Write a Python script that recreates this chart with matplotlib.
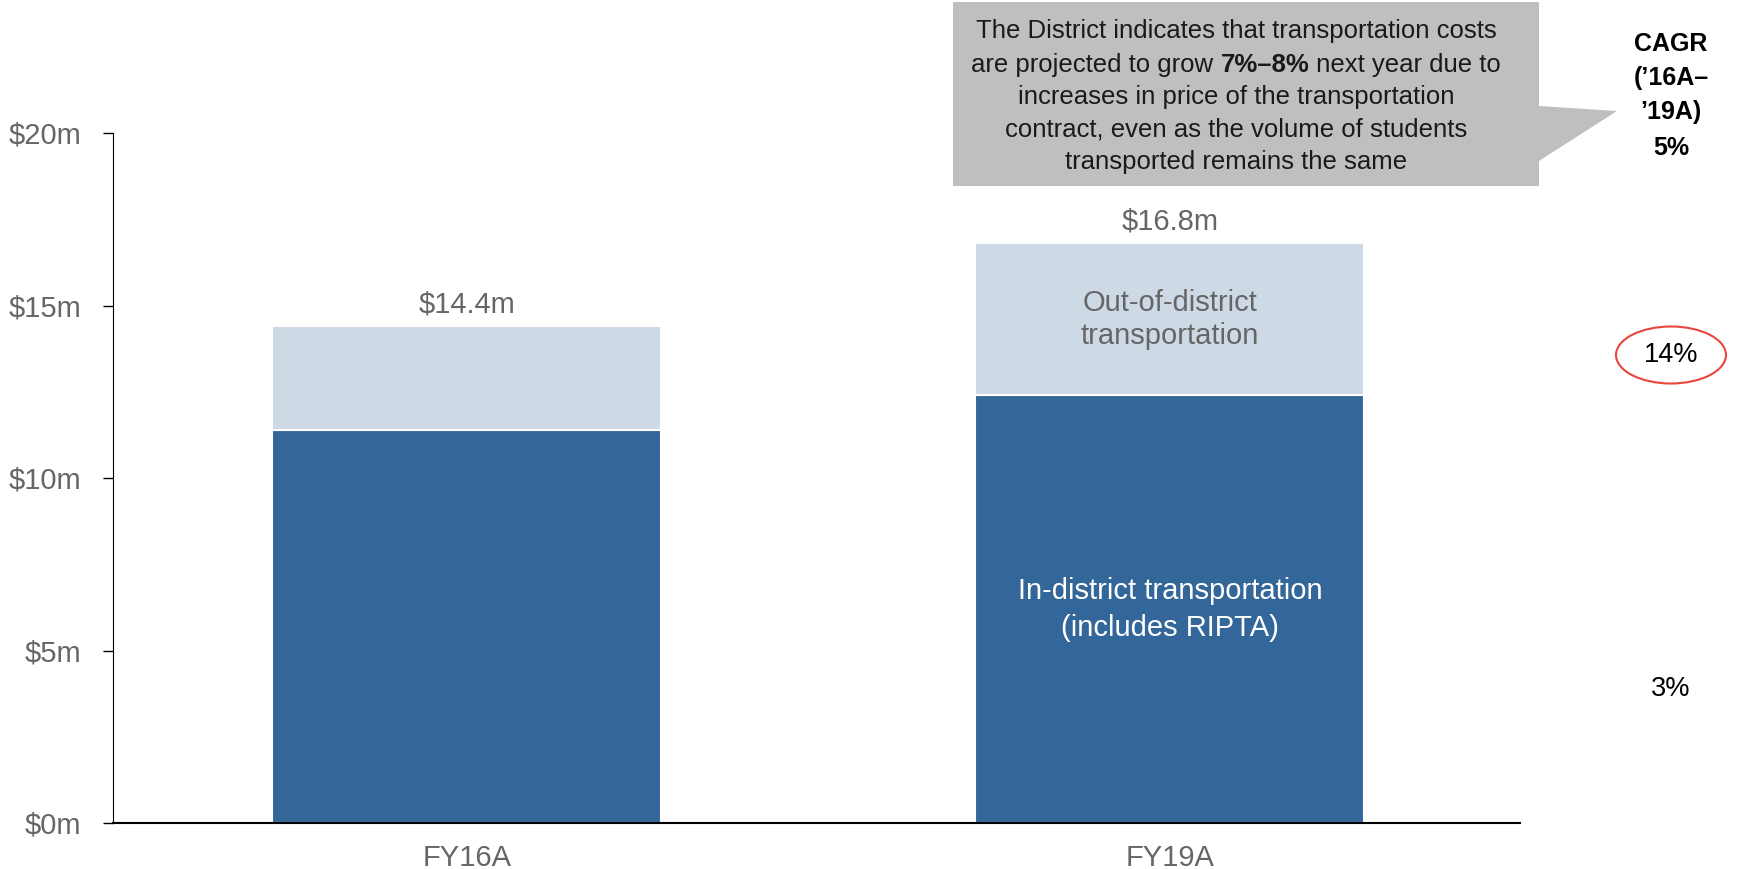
import matplotlib
matplotlib.use("Agg")
import matplotlib.pyplot as plt
from matplotlib.patches import Polygon, Ellipse

plt.rcParams['font.family'] = ['Liberation Sans', 'DejaVu Sans']

categories = ["FY16A", "FY19A"]
in_district = [11.4, 12.4]
out_district = [3.0, 4.4]
totals = [14.4, 16.8]
total_labels = ["$14.4m", "$16.8m"]
yticks = [0, 5, 10, 15, 20]
ytick_labels = ["$0m", "$5m", "$10m", "$15m", "$20m"]
cagr_values = ["14%", "3%"]

W, H = 1742, 869
fig = plt.figure(figsize=(W / 100, H / 100), dpi=100)
ax = fig.add_axes([113 / W, 1 - 823 / H, (1520 - 113) / W, (823 - 133) / H])

DARK = "#336699"
LIGHT = "#CDD9E5"
GRAY = "#666666"
FS = 21

x = list(range(len(categories)))
width = 0.553
ax.bar(x, in_district, width, color=DARK, edgecolor="white", linewidth=1.5)
ax.bar(x, out_district, width, bottom=in_district, color=LIGHT, edgecolor="white", linewidth=1.5)

for xi, t, lab in zip(x, totals, total_labels):
    ax.annotate(lab, (xi, t), xytext=(0, 10), textcoords="offset points",
                ha="center", va="baseline", fontsize=FS, color=GRAY)

ax.text(1, in_district[1] + out_district[1] / 2, "Out-of-district\ntransportation",
        ha="center", va="center", fontsize=FS, color=GRAY, linespacing=1.25)
ax.text(1, in_district[1] / 2, "In-district transportation\n(includes RIPTA)",
        ha="center", va="center", fontsize=FS, color="white", linespacing=1.4)

ax.set_ylim(0, 20)
ax.set_xlim(-0.503, 1.498)
ax.set_yticks(yticks)
ax.set_yticklabels(ytick_labels, fontsize=FS, color=GRAY)
ax.set_xticks(x)
ax.set_xticklabels(categories, fontsize=FS, color=GRAY)
ax.tick_params(axis="x", length=0, pad=15)
ax.tick_params(axis="y", length=7, width=1, direction="out", pad=16)
for s in ["top", "right"]:
    ax.spines[s].set_visible(False)
ax.spines["left"].set_color("black")
ax.spines["bottom"].set_color("black")
ax.spines["bottom"].set_linewidth(1.5)


def fx(px):
    return px / W


def fy(py):
    return 1 - py / H


callout = Polygon([(fx(953), fy(2)), (fx(1539), fy(2)), (fx(1539), fy(106)),
                   (fx(1617), fy(111)), (fx(1539), fy(161)), (fx(1539), fy(186)),
                   (fx(953), fy(186))], closed=True, transform=fig.transFigure,
                  facecolor="#BFBFBF", edgecolor="none")
fig.patches.append(callout)

TXT = "#1a1a1a"
cx = 1236
lines_y = [31, 65, 97, 130, 162]
fs_c = 18.5
fig.text(fx(cx), fy(lines_y[0]), "The District indicates that transportation costs",
         ha="center", va="center", fontsize=fs_c, color=TXT)
parts = [("are projected to grow ", "normal"), ("7%\u20138%", "bold"), (" next year due to", "normal")]
fig.canvas.draw()
renderer = fig.canvas.get_renderer()
tmp = []
widths = []
for s, wgt in parts:
    t = fig.text(0, 0, s, fontsize=fs_c, fontweight=wgt)
    widths.append(t.get_window_extent(renderer).width)
    tmp.append(t)
for t in tmp:
    t.remove()
start = cx - sum(widths) / 2
for (s, wgt), w in zip(parts, widths):
    fig.text(fx(start), fy(lines_y[1]), s, ha="left", va="center", fontsize=fs_c,
             fontweight=wgt, color=TXT)
    start += w
fig.text(fx(cx), fy(lines_y[2]), "increases in price of the transportation",
         ha="center", va="center", fontsize=fs_c, color=TXT)
fig.text(fx(cx), fy(lines_y[3]), "contract, even as the volume of students",
         ha="center", va="center", fontsize=fs_c, color=TXT)
fig.text(fx(cx), fy(lines_y[4]), "transported remains the same",
         ha="center", va="center", fontsize=fs_c, color=TXT)

cagr_x = 1671
for txt, yy in zip(["CAGR", "(\u201916A\u2013", "\u201919A)", "5%"], [44, 78, 112, 148]):
    fig.text(fx(cagr_x), fy(yy), txt, ha="center", va="center", fontsize=18,
             fontweight="bold", color="black")

fig.text(fx(cagr_x), fy(355), cagr_values[0], ha="center", va="center", fontsize=19.5, color="black")
fig.text(fx(cagr_x), fy(689), cagr_values[1], ha="center", va="center", fontsize=19.5, color="black")

ell = Ellipse((fx(1671), fy(355)), 110 / W, 57 / H, transform=fig.transFigure,
              facecolor="none", edgecolor="#E8453C", linewidth=1.5)
fig.patches.append(ell)

fig.savefig("out.png", dpi=100)
